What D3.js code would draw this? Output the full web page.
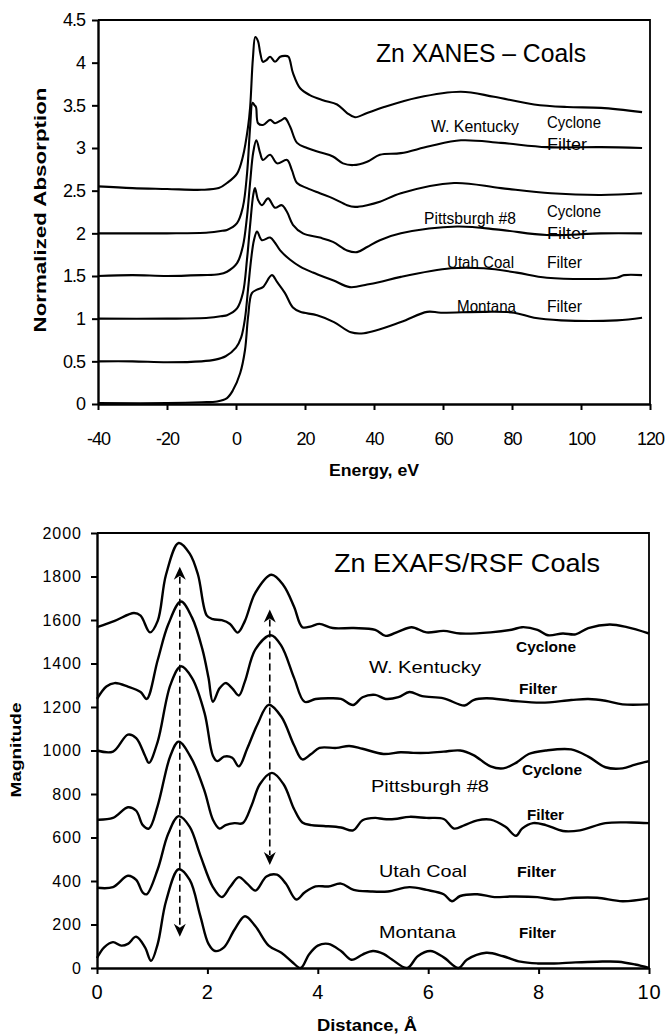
<!DOCTYPE html>
<html><head><meta charset="utf-8">
<script src="https://cdn.jsdelivr.net/npm/d3@7"></script>
<style>
body{margin:0;background:#fff;}
svg{display:block;}
text{font-family:"Liberation Sans",Arial,sans-serif;fill:#000;}
</style></head><body>
<svg id="chart" width="668" height="1035"></svg>
<script>
// ---------- Top chart: Zn XANES (Energy eV, Normalized Absorption) ----------
const xanesXTicks = [-40,-20,0,20,40,60,80,100,120];
const xanesYTicks = [0,0.5,1,1.5,2,2.5,3,3.5,4,4.5];

const xanesWKCyclone = [[-40,2.55],[-30,2.53],[-20,2.52],[-10,2.51],[-5,2.53],[-2.6,2.59],[0.3,2.7],[2,2.9],[3.5,3.25],[4.1,3.48],[4.9,4.05],[5.6,4.30],[6.4,4.25],[7,4.12],[7.8,4.01],[8.8,4.03],[9.9,4.07],[11.3,4.01],[12.8,4.07],[14.2,4.08],[15.2,4.07],[16.5,3.88],[18.6,3.70],[21.4,3.62],[25.2,3.56],[29.3,3.51],[32.2,3.41],[34.5,3.36],[38,3.41],[42.9,3.48],[52.5,3.59],[65.2,3.66],[74.8,3.6],[86.4,3.51],[95.9,3.48],[105.8,3.47],[117.7,3.42]];
const xanesWKFilter = [[-40,2.0],[-20,2.0],[-8,2.01],[-4,2.03],[-2.6,2.04],[0.3,2.12],[2,2.31],[3.2,2.7],[4.1,3.25],[4.8,3.53],[5.4,3.5],[5.8,3.48],[6.4,3.29],[7.8,3.27],[9.9,3.33],[11.3,3.29],[13.3,3.33],[14.2,3.35],[15.7,3.25],[17.7,3.06],[20.6,3.0],[24.3,2.95],[28.1,2.9],[31,2.82],[34,2.8],[38,2.84],[41.7,2.92],[47.8,2.94],[56,3.02],[65.2,3.09],[76.8,3.06],[90.1,3.01],[105.8,3.01],[117.7,3.0]];
const xanesPittCyclone = [[-40,1.5],[-30,1.51],[-20,1.5],[-10,1.51],[-5,1.52],[-2.6,1.55],[0.3,1.65],[2,1.85],[3.2,2.2],[4.1,2.6],[5,2.95],[5.9,3.09],[7,2.94],[7.8,2.86],[9.9,2.92],[11.9,2.82],[14.8,2.86],[16.2,2.74],[17.7,2.59],[20.6,2.53],[24.3,2.47],[28.1,2.41],[32.2,2.33],[34.5,2.31],[38,2.33],[41.7,2.37],[47.8,2.47],[63.2,2.59],[76.8,2.53],[91.3,2.47],[105.8,2.45],[117.7,2.47]];
const xanesPittFilter = [[-40,1.0],[-20,1.0],[-8,1.01],[-4,1.03],[-2.6,1.04],[0.3,1.12],[2,1.3],[3.2,1.7],[4.1,2.1],[5,2.45],[5.5,2.53],[6.4,2.39],[7.5,2.33],[9.3,2.41],[11.3,2.3],[13.3,2.33],[14.8,2.25],[16.5,2.1],[19.4,2.0],[24.3,1.95],[28.1,1.9],[32.2,1.8],[35.1,1.78],[38,1.84],[41.7,1.92],[47.8,2.0],[64.1,2.08],[76.8,2.04],[90.1,1.98],[105.8,2.0],[117.7,2.0]];
const xanesUtah = [[-40,0.5],[-30,0.5],[-20,0.49],[-10,0.5],[-6,0.52],[-3,0.56],[0,0.66],[1.5,0.78],[2.6,1.0],[3.5,1.35],[4.4,1.7],[5.2,1.92],[6.1,2.02],[7.5,1.92],[9.9,1.95],[11.3,1.89],[12.8,1.8],[15.7,1.69],[18.6,1.61],[22.3,1.54],[28.1,1.45],[33,1.37],[38,1.4],[41.7,1.43],[47.8,1.49],[62.3,1.59],[71.9,1.59],[81.4,1.54],[90.1,1.48],[110.4,1.48],[112.5,1.51],[117.7,1.51]];
const xanesMontana = [[-40,0.01],[-20,0.01],[-10,0.02],[-5.5,0.03],[-2.6,0.07],[-0.9,0.16],[1.2,0.36],[2.6,0.63],[3.5,1.02],[4.6,1.3],[6.1,1.34],[7.8,1.37],[10.4,1.51],[11.9,1.43],[14.2,1.3],[16.5,1.13],[18.6,1.08],[23.5,1.04],[28.4,0.96],[33.3,0.84],[37.1,0.83],[47.8,0.96],[55.4,1.08],[59.4,1.07],[71.9,1.08],[80.6,1.07],[86.4,1.01],[94.2,0.98],[110.4,0.98],[117.7,1.01]];

// ---------- Bottom chart: Zn EXAFS / RSF (Distance Å, Magnitude) ----------
const exafsXTicks = [0,2,4,6,8,10];
const exafsYTicks = [0,200,400,600,800,1000,1200,1400,1600,1800,2000];

const exafsWKCyclone = [[0,1567],[0.32,1596],[0.67,1632],[0.79,1620],[0.96,1543],[1.10,1596],[1.25,1808],[1.48,1954],[1.68,1905],[1.83,1808],[1.99,1620],[2.10,1604],[2.26,1599],[2.41,1582],[2.55,1542],[2.68,1596],[2.87,1726],[3.16,1808],[3.38,1759],[3.57,1661],[3.72,1567],[3.88,1571],[4.03,1582],[4.27,1563],[4.65,1563],[5.04,1555],[5.23,1527],[5.46,1547],[5.70,1567],[5.97,1543],[6.28,1550],[6.58,1538],[7.13,1543],[7.51,1555],[7.70,1567],[7.98,1555],[8.17,1530],[8.44,1538],[8.67,1534],[8.90,1563],[9.29,1579],[9.60,1567],[10,1538]];
const exafsWKFilter = [[0,1237],[0.17,1294],[0.32,1310],[0.56,1294],[0.79,1269],[0.90,1237],[1.10,1416],[1.29,1579],[1.52,1685],[1.72,1612],[1.91,1465],[2.02,1334],[2.10,1224],[2.22,1286],[2.33,1310],[2.45,1286],[2.57,1253],[2.68,1318],[2.87,1465],[3.15,1530],[3.34,1481],[3.57,1334],[3.76,1224],[3.96,1237],[4.19,1240],[4.42,1237],[4.64,1209],[4.81,1245],[5.04,1256],[5.23,1237],[5.46,1245],[5.66,1269],[5.89,1250],[6.28,1240],[6.66,1207],[6.82,1232],[7.05,1240],[7.51,1229],[8.05,1220],[8.59,1232],[8.90,1237],[9.21,1229],[9.52,1212],[10,1212]];
const exafsPittCyclone = [[0,1000],[0.29,995],[0.56,1073],[0.71,1057],[0.87,976],[0.94,943],[1.10,1041],[1.33,1302],[1.52,1387],[1.72,1334],[1.95,1171],[2.10,976],[2.18,951],[2.30,972],[2.45,967],[2.57,927],[2.72,1008],[2.91,1122],[3.11,1210],[3.34,1155],[3.57,1024],[3.72,959],[3.88,984],[4.03,1012],[4.34,1012],[4.57,1021],[4.81,1008],[5.19,984],[5.50,992],[5.73,989],[5.97,989],[6.28,995],[6.58,1000],[6.82,979],[7.13,927],[7.36,918],[7.59,943],[7.82,984],[8.13,1000],[8.59,1005],[8.90,972],[9.21,923],[9.52,918],[9.75,935],[10,951]];
const exafsPittFilter = [[0,682],[0.29,690],[0.56,739],[0.71,723],[0.83,657],[0.94,641],[1.10,747],[1.33,976],[1.48,1041],[1.72,959],[1.95,812],[2.10,682],[2.22,641],[2.33,657],[2.49,666],[2.64,666],[2.80,747],[2.95,845],[3.17,897],[3.38,845],[3.57,731],[3.72,669],[3.88,657],[4.11,653],[4.42,646],[4.64,633],[4.81,679],[5.04,690],[5.19,685],[5.39,685],[5.66,695],[5.97,690],[6.28,685],[6.47,641],[6.66,657],[6.89,679],[7.13,682],[7.40,649],[7.59,608],[7.70,641],[7.90,666],[8.13,657],[8.44,630],[8.75,633],[9.21,666],[9.68,669],[10,666]];
const exafsUtah = [[0,369],[0.29,372],[0.56,424],[0.71,405],[0.83,347],[0.90,339],[1.10,454],[1.29,617],[1.48,698],[1.68,649],[1.87,519],[2.10,372],[2.26,326],[2.41,372],[2.57,418],[2.72,388],[2.87,356],[3.07,421],[3.26,429],[3.42,388],[3.61,315],[3.76,347],[3.96,375],[4.19,375],[4.42,388],[4.65,359],[4.96,352],[5.27,352],[5.66,372],[5.97,359],[6.28,339],[6.43,307],[6.58,331],[6.89,339],[7.20,326],[7.51,329],[7.98,326],[8.28,315],[8.67,323],[9.06,323],[9.52,307],[10,320]];
const exafsMontana = [[0,46],[0.13,95],[0.29,119],[0.44,103],[0.56,111],[0.71,144],[0.87,95],[0.98,33],[1.10,111],[1.25,307],[1.48,454],[1.68,405],[1.87,241],[2.02,111],[2.14,78],[2.30,95],[2.49,176],[2.68,238],[2.87,192],[3.11,103],[3.34,70],[3.53,29],[3.69,0],[3.84,62],[4.00,103],[4.19,111],[4.42,78],[4.61,38],[4.81,62],[5.00,78],[5.19,65],[5.35,38],[5.62,0],[5.81,54],[6.04,78],[6.28,49],[6.55,0],[6.70,38],[7.05,70],[7.36,54],[7.67,29],[7.98,21],[8.28,21],[8.67,26],[9.06,29],[9.44,29],[9.75,16],[10,0]];

// double-headed dashed arrows: [distance, lower tip, upper tip]
const exafsArrows = [[1.50,144,1845],[3.13,474,1648]];

// ---------- drawing ----------
const svg = d3.select("#chart");

function addText(g, str, x, y, o) {
  o = o || {};
  const t = g.append("text").attr("x", x).attr("y", y).text(str)
    .style("font-size", (o.size || 14) + "px")
    .style("font-weight", o.bold ? "bold" : "normal");
  if (o.anchor) t.attr("text-anchor", o.anchor);
  if (o.tl) t.attr("textLength", o.tl).attr("lengthAdjust", o.adj || "spacingAndGlyphs");
  if (o.rotate) t.attr("transform", `rotate(${o.rotate},${x},${y})`);
  return t;
}

// ===== TOP =====
const PT = {l:98, r:650, t:20, b:404};
const xT = d3.scaleLinear().domain([-40,120]).range([PT.l, PT.r]);
const yT = d3.scaleLinear().domain([0,4.5]).range([PT.b, PT.t]);
const gT = svg.append("g");

gT.append("path").attr("d", `M${PT.l},${PT.t}H${PT.r}V${PT.b}`)
  .attr("fill","none").attr("stroke","#000").attr("stroke-width",1.8);

const lineT = d3.line().x(d=>xT(d[0])).y(d=>yT(d[1])).curve(d3.curveCatmullRom.alpha(0.5));
[xanesWKCyclone, xanesWKFilter, xanesPittCyclone, xanesPittFilter, xanesUtah, xanesMontana].forEach(s => {
  gT.append("path").datum(s).attr("d", lineT)
    .attr("fill","none").attr("stroke","#000").attr("stroke-width",2.1)
    .attr("stroke-linejoin","round");
});

const axTX = gT.append("g").attr("transform",`translate(0,${PT.b})`)
  .call(d3.axisBottom(xT).tickValues(xanesXTicks).tickSizeInner(6).tickSizeOuter(0).tickPadding(22).tickFormat(d=>String(d)));
const axTY = gT.append("g").attr("transform",`translate(${PT.l},0)`)
  .call(d3.axisLeft(yT).tickValues(xanesYTicks).tickSizeInner(6).tickSizeOuter(0).tickPadding(7).tickFormat(d=>String(d)));
[axTX, axTY].forEach(a => {
  a.select(".domain").attr("stroke-width",2.4);
  a.selectAll(".tick line").attr("stroke-width",2);
  a.selectAll(".tick text").style("font-size","18px").style("font-family","'Liberation Sans',Arial,sans-serif")
    .style("letter-spacing","-1px");
});

addText(gT, "Zn XANES \u2013 Coals", 376, 62, {size:25, tl:210});
addText(gT, "W. Kentucky", 431, 132, {size:17, tl:88});
addText(gT, "Cyclone", 547, 128, {size:17, tl:54});
addText(gT, "Filter", 547, 150, {size:17, tl:40});
addText(gT, "Pittsburgh #8", 424, 224, {size:17, tl:92});
addText(gT, "Cyclone", 547, 217, {size:17, tl:54});
addText(gT, "Filter", 547, 239, {size:17, tl:40});
addText(gT, "Utah Coal", 447, 268, {size:17, tl:67});
addText(gT, "Filter", 547, 268, {size:17, tl:35});
addText(gT, "Montana", 457, 312, {size:17, tl:59});
addText(gT, "Filter", 547, 312, {size:17, tl:35});

addText(gT, "Normalized Absorption", 46, 210, {size:17, bold:true, anchor:"middle", rotate:-90, tl:245});
addText(gT, "Energy, eV", 374, 476, {size:16, bold:true, anchor:"middle", tl:90});

// ===== BOTTOM =====
const PB = {l:97, r:649, t:533, b:968};
const xB = d3.scaleLinear().domain([0,10]).range([PB.l, PB.r]);
const yB = d3.scaleLinear().domain([0,2000]).range([PB.b, PB.t]);
const gB = svg.append("g");

gB.append("path").attr("d", `M${PB.l},${PB.t}H${PB.r}V${PB.b}`)
  .attr("fill","none").attr("stroke","#000").attr("stroke-width",1.8);

const lineB = d3.line().x(d=>xB(d[0])).y(d=>yB(d[1])).curve(d3.curveCatmullRom.alpha(0.5));
[exafsWKCyclone, exafsWKFilter, exafsPittCyclone, exafsPittFilter, exafsUtah, exafsMontana].forEach(s => {
  gB.append("path").datum(s).attr("d", lineB)
    .attr("fill","none").attr("stroke","#000").attr("stroke-width",2.4)
    .attr("stroke-linejoin","round");
});

exafsArrows.forEach(a => {
  const x = xB(a[0]), y0 = yB(a[1]), y1 = yB(a[2]);
  const hl = 13, hw = 6;
  gB.append("line").attr("x1",x).attr("x2",x).attr("y1",y1+hl-3).attr("y2",y0-hl+3)
    .attr("stroke","#000").attr("stroke-width",1.6).attr("stroke-dasharray","7,4");
  gB.append("path").attr("d",`M${x},${y1}L${x+hw},${y1+hl}L${x},${y1+hl-4}L${x-hw},${y1+hl}Z`).attr("fill","#000");
  gB.append("path").attr("d",`M${x},${y0}L${x+hw},${y0-hl}L${x},${y0-hl+4}L${x-hw},${y0-hl}Z`).attr("fill","#000");
});

const axBX = gB.append("g").attr("transform",`translate(0,${PB.b})`)
  .call(d3.axisBottom(xB).tickValues(exafsXTicks).tickSizeInner(6).tickSizeOuter(0).tickPadding(11).tickFormat(d=>String(d)));
const axBY = gB.append("g").attr("transform",`translate(${PB.l},0)`)
  .call(d3.axisLeft(yB).tickValues(exafsYTicks).tickSizeInner(6).tickSizeOuter(0).tickPadding(9).tickFormat(d=>String(d)));
[axBX, axBY].forEach(a => {
  a.select(".domain").attr("stroke-width",2.4);
  a.selectAll(".tick line").attr("stroke-width",2);
  a.selectAll(".tick text").style("font-family","'Liberation Sans',Arial,sans-serif").style("letter-spacing","1px");
});
axBY.selectAll(".tick text").style("font-size","16px");
axBX.selectAll(".tick text").style("font-size","20px");

addText(gB, "Zn EXAFS/RSF Coals", 334, 572, {size:25, tl:266});
addText(gB, "Cyclone", 516, 652, {size:14, bold:true, tl:60});
addText(gB, "W. Kentucky", 369, 673, {size:17, tl:112});
addText(gB, "Filter", 519, 694, {size:14, bold:true, tl:38});
addText(gB, "Cyclone", 522, 775, {size:14, bold:true, tl:60});
addText(gB, "Pittsburgh #8", 371, 792, {size:17, tl:118});
addText(gB, "Filter", 527, 820, {size:14, bold:true, tl:37});
addText(gB, "Utah Coal", 379, 877, {size:17, tl:88});
addText(gB, "Filter", 517, 877, {size:14, bold:true, tl:39});
addText(gB, "Montana", 379, 938, {size:17, tl:77});
addText(gB, "Filter", 519, 938, {size:14, bold:true, tl:37});

addText(gB, "Magnitude", 21, 750, {size:15, bold:true, anchor:"middle", rotate:-90, tl:95});
addText(gB, "Distance, \u00C5", 367, 1031, {size:16, bold:true, anchor:"middle", tl:100});
</script>
</body></html>
